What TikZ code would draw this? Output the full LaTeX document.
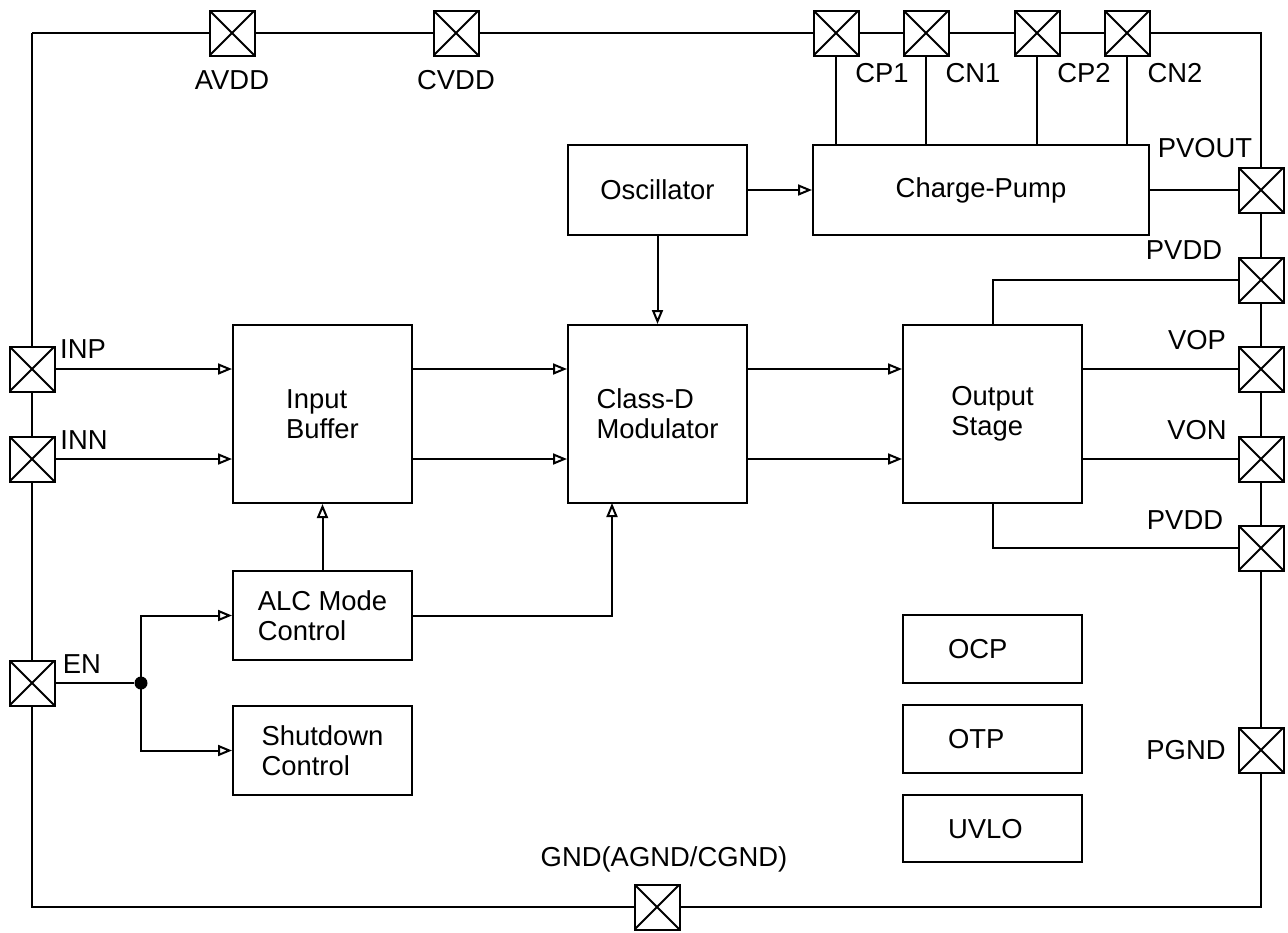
\documentclass[tikz,border=0pt]{standalone}
\usepackage{fontspec}
\setmainfont{Liberation Sans}
\usetikzlibrary{arrows.meta,calc}
\begin{document}
\begin{tikzpicture}[x=0.5pt,y=-0.5pt,
  line width=1pt,
  >={Triangle[open,length=7pt,width=5.5pt]},
  font=\fontsize{13.7}{15}\selectfont,
  pad/.style={draw,minimum size=22.5pt,inner sep=0pt,fill=white,
    path picture={\draw[line width=1pt] (path picture bounding box.south west) -- (path picture bounding box.north east)
      (path picture bounding box.north west) -- (path picture bounding box.south east);}},
  blk/.style={draw,minimum width=89.5pt,inner sep=0pt,align=left},
  lbl/.style={inner sep=0pt,text height=9.8pt,text depth=0pt},
  dotnode/.style={circle,fill=black,inner sep=0pt,minimum size=6.5pt}
]
\useasboundingbox (0,0) rectangle (1288,932);
% corners
\coordinate (cTL) at (32,33);
\coordinate (cTR) at (1261,33);
\coordinate (cBR) at (1261,907);
\coordinate (cBL) at (32,907);
% pads
\node[pad] (AVDD) at (232,33) {};
\node[pad] (CVDD) at (456,33) {};
\node[pad] (CP1) at (836,33) {};
\node[pad] (CN1) at (926,33) {};
\node[pad] (CP2) at (1037,33) {};
\node[pad] (CN2) at (1127,33) {};
\node[pad] (PVOUT) at (1261,190) {};
\node[pad] (PVDDa) at (1261,280) {};
\node[pad] (VOP) at (1261,369) {};
\node[pad] (VON) at (1261,459) {};
\node[pad] (PVDDb) at (1261,548) {};
\node[pad] (PGND) at (1261,750) {};
\node[pad] (GND) at (657,907) {};
\node[pad] (INP) at (32,369) {};
\node[pad] (INN) at (32,459) {};
\node[pad] (EN) at (32,683) {};
% border ring
\draw (cTL) -- (AVDD) -- (CVDD) -- (CP1) -- (CN1) -- (CP2) -- (CN2) -- (cTR) -- (PVOUT) -- (PVDDa) -- (VOP) -- (VON) -- (PVDDb) -- (PGND) -- (cBR) -- (GND) -- (cBL) -- (EN) -- (INN) -- (INP) -- (cTL);
% pad labels
\node[lbl] (lAVDD) at (232,80) {AVDD};
\node[lbl] (lCVDD) at (456,80) {CVDD};
\node[lbl] (lCP1) at (882,73) {CP1};
\node[lbl] (lCN1) at (973,73) {CN1};
\node[lbl] (lCP2) at (1084,73) {CP2};
\node[lbl] (lCN2) at (1175,73) {CN2};
\node[lbl] (lPVOUT) at (1205,148) {PVOUT};
\node[lbl] (lPVDDa) at (1184,250) {PVDD};
\node[lbl] (lVOP) at (1197,340) {VOP};
\node[lbl] (lVON) at (1197,430) {VON};
\node[lbl] (lPVDDb) at (1185,520) {PVDD};
\node[lbl] (lPGND) at (1186,750) {PGND};
\node[lbl] (lGND) at (664,857) {GND(AGND/CGND)};
\node[lbl] (lINP) at (83,349) {INP};
\node[lbl] (lINN) at (84,440) {INN};
\node[lbl] (lEN) at (82,664) {EN};
% blocks
\node[blk,minimum height=45pt] (osc) at (657.5,190) {Oscillator};
\node[blk,minimum width=168pt,minimum height=45pt] (cp) at (981,190) {Charge-Pump};
\node[blk,minimum height=89pt] (ib) at (322.5,414) {Input\\Buffer};
\node[blk,minimum height=89pt] (cd) at (657.5,414) {Class-D\\Modulator};
\node[blk,minimum height=89pt] (os) at (992.5,414) {Output\\Stage};
\node[blk,minimum height=44.5pt] (alc) at (322.5,615.5) {ALC Mode\\Control};
\node[blk,minimum height=44.5pt] (sd) at (322.5,750.5) {Shutdown\\Control};
\node[blk,minimum height=34pt] (ocp) at (992.5,649) {};
\node[blk,minimum height=34pt] (otp) at (992.5,739) {};
\node[blk,minimum height=33.5pt] (uvlo) at (992.5,828.5) {};
\node[lbl,anchor=west] (tocp) at (947,649) {OCP};
\node[lbl,anchor=west] (totp) at (947,739) {OTP};
\node[lbl,anchor=west] (tuvlo) at (947,828.5) {UVLO};
% charge pump pins
\draw (CP1) -- (CP1 |- cp.north);
\draw (CN1) -- (CN1 |- cp.north);
\draw (CP2) -- (CP2 |- cp.north);
\draw (CN2) -- (CN2 |- cp.north);
\draw (cp.east) -- (PVOUT);
\draw[->] (osc.east) -- (cp.west);
\draw[->] (osc.south) -- (cd.north);
% output stage
\draw (os.north) |- (PVDDa);
\draw (os.east |- VOP) -- (VOP);
\draw (os.east |- VON) -- (VON);
\draw (os.south) |- (PVDDb);
% inputs
\draw[->] (INP) -- (ib.west |- INP);
\draw[->] (INN) -- (ib.west |- INN);
\draw[->] (ib.east |- INP) -- (cd.west |- INP);
\draw[->] (ib.east |- INN) -- (cd.west |- INN);
\draw[->] (cd.east |- INP) -- (os.west |- INP);
\draw[->] (cd.east |- INN) -- (os.west |- INN);
\draw[->] (alc.north) -- (ib.south);
\coordinate (cdin) at (612,503);
\draw[->] (alc.east) -| (cdin);
% enable
\node[dotnode] (dot) at (141,683) {};
\draw (EN) -- (dot);
\draw[->] (dot.center) |- (alc.west);
\draw[->] (dot.center) |- (sd.west);
\end{tikzpicture}
\end{document}
